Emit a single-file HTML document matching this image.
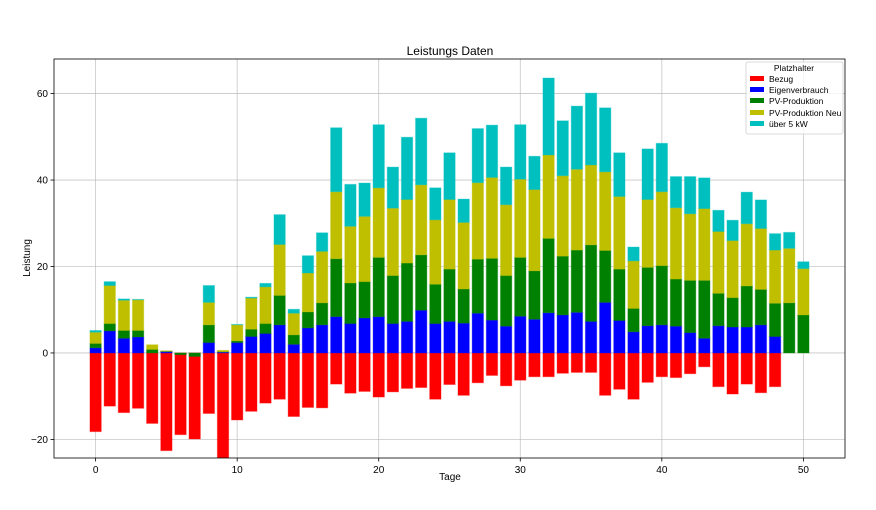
<!DOCTYPE html>
<html><head><meta charset="utf-8">
<style>
html,body{margin:0;padding:0;background:#fff;}
svg{display:block;font-family:"Liberation Sans","DejaVu Sans",sans-serif;}
</style></head>
<body>
<svg id="chart" width="876" height="510" viewBox="0 0 876 510" xmlns="http://www.w3.org/2000/svg"></svg>
<script>
const categories = Array.from({length:51},(_,i)=>i);
const bezug = [-18.2,-12.3,-13.8,-12.8,-16.3,-22.6,-18.9,-19.9,-14.0,-25,-15.5,-13.5,-11.6,-10.7,-14.7,-12.6,-12.7,-7.2,-9.3,-8.9,-10.2,-9.0,-8.2,-8.0,-10.7,-7.3,-9.8,-6.9,-5.2,-7.6,-6.3,-5.5,-5.5,-4.7,-4.5,-4.5,-9.8,-8.4,-10.7,-6.8,-5.5,-5.7,-4.8,-3.2,-7.8,-9.5,-7.2,-9.2,-7.8,0,0];
const eigenverbrauch = [1.2,5.1,3.4,3.7,0,0.3,0,0,2.4,0.2,2.4,3.8,4.5,6.5,2.0,5.8,6.5,8.4,6.8,8.1,8.4,6.8,7.3,9.9,6.8,7.3,6.9,9.2,7.6,6.2,8.5,7.8,9.3,8.8,9.4,7.3,11.7,7.5,4.9,6.3,6.5,6.2,4.7,3.4,6.3,6.0,6.0,6.5,3.8,0,0];
const pvProduktion = [1.0,1.7,1.8,1.5,0.8,0.1,-0.4,-0.8,4.1,0.1,0.4,1.7,2.3,6.8,2.2,3.7,5.1,13.4,9.4,8.4,13.7,11.1,13.5,12.8,9.1,12.1,7.9,12.5,14.3,11.7,13.6,11.2,17.2,13.6,14.4,17.7,12.0,11.9,5.4,13.5,13.7,10.9,12.1,13.4,7.5,6.8,9.5,8.2,7.7,11.6,8.8];
const pvProduktionNeu = [2.6,8.8,7.0,7.1,1.1,0.1,0,0,5.2,0.3,3.7,7.2,8.5,11.8,5.0,9.0,11.9,15.5,13.1,15.1,16.1,15.6,14.7,16.2,14.9,16.1,15.4,17.7,18.7,16.4,18.1,18.8,19.3,18.6,18.7,18.5,18.2,16.8,11.0,15.7,17.1,16.5,15.4,16.6,14.3,13.2,14.4,14.1,12.3,12.6,10.7];
const ueber5kW = [0.4,0.9,0.3,0.1,0,0,0,0,3.9,0,0.1,0.2,0.8,6.9,0.9,4.0,4.3,14.8,9.7,7.7,14.6,9.5,14.4,15.4,7.4,10.8,5.4,12.5,12.1,8.7,12.6,7.7,17.8,12.7,14.6,16.6,14.8,10.1,3.2,11.7,11.2,7.2,8.6,7.1,4.9,4.7,7.3,6.6,3.8,3.7,1.6];
const xTicks = [0,10,20,30,40,50];
const yTicks = [-20,0,20,40,60];

const NS="http://www.w3.org/2000/svg";
const svg=document.getElementById('chart');
const L=54,R=845,T=59,B=458;
const xMin=-2.94,xMax=52.94,yMin=-24.3,yMax=68.0;
const xs=v=>L+(v-xMin)/(xMax-xMin)*(R-L);
const ys=v=>B-(v-yMin)/(yMax-yMin)*(B-T);
function mk(tag,attrs,parent){const e=document.createElementNS(NS,tag);for(const k in attrs)e.setAttribute(k,attrs[k]);(parent||svg).appendChild(e);return e;}

const defs=mk('clipPath',{id:'clip'});mk('rect',{x:L,y:T,width:R-L,height:B-T},defs);

const grid=mk('g',{});


xTicks.forEach(t=>mk('line',{x1:xs(t),x2:xs(t),y1:T,y2:B,stroke:'#b0b0b0','stroke-width':0.8,opacity:0.7},grid));
yTicks.forEach(t=>mk('line',{x1:L,x2:R,y1:ys(t),y2:ys(t),stroke:'#b0b0b0','stroke-width':0.8,opacity:0.7},grid));

const bars=mk('g',{'clip-path':'url(#clip)'});


const bw=0.8*(R-L)/(xMax-xMin);
function bar(x,b,v,color,name){
  const y1=ys(b),y2=ys(b+v);
  const r=mk('rect',{x:xs(x)-bw/2,y:Math.min(y1,y2),width:bw,height:Math.abs(y1-y2),fill:color,stroke:color,'stroke-opacity':0.35,'stroke-width':1},bars);
  
  
}
categories.forEach((c,i)=>{
  bar(c,0,bezug[i],'#ff0000','bar-bezug-'+c);
  let b=0;
  bar(c,b,eigenverbrauch[i],'#0000ff','bar-eigenverbrauch-'+c); b+=eigenverbrauch[i];
  bar(c,b,pvProduktion[i],'#008000','bar-pv-produktion-'+c); b+=pvProduktion[i];
  bar(c,b,pvProduktionNeu[i],'#bfbf00','bar-pv-produktion-neu-'+c); b+=pvProduktionNeu[i];
  bar(c,b,ueber5kW[i],'#00bfbf','bar-ueber-5kw-'+c);
});

mk('rect',{x:L,y:T,width:R-L,height:B-T,fill:'none',stroke:'#000','stroke-width':0.8});

xTicks.forEach(t=>{
  mk('line',{x1:xs(t),x2:xs(t),y1:B,y2:B+3.5,stroke:'#000','stroke-width':0.8});
  const tx=mk('text',{x:xs(t),y:B+15,'font-size':10,'text-anchor':'middle',fill:'#000'});
  tx.textContent=t;
  
  
});
yTicks.forEach(t=>{
  mk('line',{x1:L-3.5,x2:L,y1:ys(t),y2:ys(t),stroke:'#000','stroke-width':0.8});
  const tx=mk('text',{x:L-6,y:ys(t)+3.5,'font-size':10,'text-anchor':'end',fill:'#000'});
  tx.textContent=t<0?'\u2212'+Math.abs(t):t;
  
  
});
</script>
<svg style="position:absolute;left:0;top:0" width="876" height="510" xmlns="http://www.w3.org/2000/svg">
  <text x="450" y="55" font-size="12" text-anchor="middle" font-family="Liberation Sans, sans-serif">Leistungs Daten</text>
  <text x="450" y="480" font-size="10" text-anchor="middle" font-family="Liberation Sans, sans-serif">Tage</text>
  <text x="30" y="258" font-size="10" text-anchor="middle" transform="rotate(-90 30 258)" font-family="Liberation Sans, sans-serif">Leistung</text>
  <g font-family="Liberation Sans, sans-serif" font-size="8.5">
    <rect x="746" y="62" width="97" height="72" rx="2" fill="#fff" fill-opacity="0.8" stroke="#d0d0d0" stroke-width="0.8"/>
    <text x="794" y="71" text-anchor="middle">Platzhalter</text>
    <g><rect x="750" y="76" width="14" height="5" fill="#ff0000"/><text x="769" y="82">Bezug</text></g>
    <g><rect x="750" y="87" width="14" height="5" fill="#0000ff"/><text x="769" y="93">Eigenverbrauch</text></g>
    <g><rect x="750" y="98" width="14" height="5" fill="#008000"/><text x="769" y="104">PV-Produktion</text></g>
    <g><rect x="750" y="110" width="14" height="5" fill="#bfbf00"/><text x="769" y="116">PV-Produktion Neu</text></g>
    <g><rect x="750" y="121" width="14" height="5" fill="#00bfbf"/><text x="769" y="127">über 5 kW</text></g>
  </g>
</svg>
</body></html>
